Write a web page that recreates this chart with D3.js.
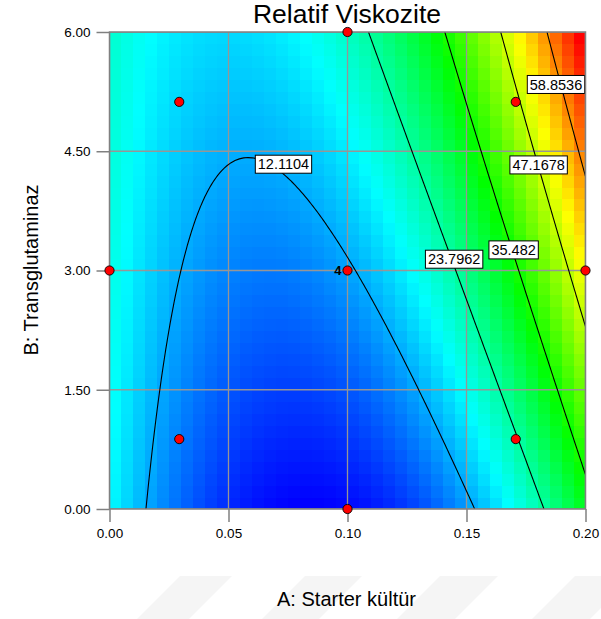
<!DOCTYPE html>
<html>
<head>
<meta charset="utf-8">
<script src="https://cdn.jsdelivr.net/npm/d3@7"></script>
<style>
  html, body { margin: 0; padding: 0; background: #fff; }
  svg { display: block; font-family: "Liberation Sans", Arial, sans-serif; }
</style>
</head>
<body>
<svg id="chart" width="601" height="619"></svg>
<script>
// ---------------- data ----------------
const chartTitle = "Relatif Viskozite";
const xTitle = "A: Starter kültür";
const yTitle = "B: Transglutaminaz";

const xTicks = [0, 0.05, 0.10, 0.15, 0.20];
const yTicks = [0, 1.5, 3, 4.5, 6];

// fitted quadratic model in coded units (x1 = (A-0.1)/0.1, x2 = (B-3)/3)
const modelTerms = ["1", "A", "B", "AB", "A^2", "B^2"];
const modelCoef  = [11.55, 16.0, 10.1, 8.5, 24.0, -0.2];

// contour levels
const contourLevels = [12.1104, 23.7962, 35.482, 47.1678, 58.8536];
// contour label anchors (A, B)
const labelA = [0.0731, 0.1448, 0.1698, 0.1803, 0.1876];
const labelB = [4.337, 3.142, 3.259, 4.328, 5.34];

// design points
const designA = [0.0293, 0.1707, 0.0293, 0.1707, 0, 0.2, 0.1, 0.1, 0.1];
const designB = [0.879, 0.879, 5.121, 5.121, 3, 3, 0, 6, 3];
const designLabel = ["", "", "", "", "", "", "", "", "4"];

const nCells = 40;
const colorStops = ["#0000ff", "#00ffff", "#00ff00", "#ffff00", "#ff0000"];

// ---------------- setup ----------------
const svg = d3.select("#chart");
const x = d3.scaleLinear().domain([0, 0.2]).range([109.5, 585.5]);
const y = d3.scaleLinear().domain([0, 6]).range([509, 32]);
const [x0, x1p] = x.range();
const [y0, y1p] = y.range();

function model(a, b) {
  const c1 = (a - 0.1) / 0.1, c2 = (b - 3) / 3;
  const k = modelCoef;
  return k[0] + k[1]*c1 + k[2]*c2 + k[3]*c1*c2 + k[4]*c1*c1 + k[5]*c2*c2;
}

// watermark stripes
const stripeLeft = [180, 305, 440, 575];
const stripeW = [52, 57, 58, 58];
svg.append("g").selectAll("path").data(stripeLeft).join("path")
  .attr("d", (d, i) => {
    const t = 576, bt = 640, s = bt - t;
    return `M${d},${t}L${d+stripeW[i]},${t}L${d+stripeW[i]-s},${bt}L${d-s},${bt}Z`;
  })
  .attr("fill", "#f5f5f5");

svg.append("defs").append("clipPath").attr("id", "plotclip")
  .append("rect").attr("x", x0).attr("y", y1p).attr("width", x1p - x0).attr("height", y0 - y1p);

const plot = svg.append("g").attr("clip-path", "url(#plotclip)");

// ---------------- heat cells ----------------
const cells = [];
const da = 0.2 / nCells, db = 6 / nCells;
for (let j = 0; j < nCells; j++) {
  for (let i = 0; i < nCells; i++) {
    const a = (i + 0.5) * da, b = (j + 0.5) * db;
    cells.push({ i, j, v: model(a, b) });
  }
}
const vmin = d3.min(cells, d => d.v), vmax = d3.max(cells, d => d.v);
const color = d3.scaleLinear()
  .domain(d3.range(5).map(k => vmin + (vmax - vmin) * k / 4))
  .range(colorStops)
  .interpolate(d3.interpolateRgb);

plot.append("g").selectAll("rect").data(cells).join("rect")
  .attr("x", d => x(d.i * da))
  .attr("y", d => y((d.j + 1) * db))
  .attr("width", d => x((d.i + 1) * da) - x(d.i * da) + 0.5)
  .attr("height", d => y(d.j * db) - y((d.j + 1) * db) + 0.5)
  .attr("fill", d => color(d.v))
  .attr("shape-rendering", "crispEdges");

// ---------------- grid ----------------
plot.append("g").selectAll("line").data(xTicks).join("line")
  .attr("x1", d => x(d)).attr("x2", d => x(d))
  .attr("y1", y0).attr("y2", y1p)
  .attr("stroke", "#969696").attr("stroke-width", 1.3);
plot.append("g").selectAll("line").data(yTicks).join("line")
  .attr("y1", d => y(d)).attr("y2", d => y(d))
  .attr("x1", x0).attr("x2", x1p)
  .attr("stroke", "#969696").attr("stroke-width", 1.3);

// ---------------- contours ----------------
const n = 221, lo = -0.1, hi = 0.3;   // A grid beyond domain
const bLo = -0.3, bHi = 6.3;
const stepA = (hi - lo) / (n - 1), stepB = (bHi - bLo) / (n - 1);
const values = new Array(n * n);
for (let j = 0; j < n; j++) for (let i = 0; i < n; i++) {
  values[j * n + i] = model(lo + i * stepA, bLo + j * stepB);
}
const contours = d3.contours().size([n, n]).thresholds(contourLevels).smooth(true)(values);
const proj = d3.geoTransform({
  point: function(gx, gy) {
    this.stream.point(x(lo + (gx - 0.5) * stepA), y(bLo + (gy - 0.5) * stepB));
  }
});
plot.append("g").selectAll("path").data(contours).join("path")
  .attr("d", d3.geoPath(proj))
  .attr("fill", "none")
  .attr("stroke", "#000")
  .attr("stroke-width", 1.1);

// contour labels
const lab = plot.append("g").selectAll("g").data(contourLevels).join("g")
  .attr("transform", (d, i) => `translate(${x(labelA[i])},${y(labelB[i])})`);
lab.append("text")
  .attr("text-anchor", "middle").attr("dy", "0.36em")
  .attr("font-size", 14.5).attr("fill", "#000")
  .text(d => String(d));
lab.each(function() {
  const g = d3.select(this);
  const bb = g.select("text").node().getBBox();
  g.insert("rect", "text")
    .attr("x", -bb.width / 2 - 2.5).attr("y", -9)
    .attr("width", bb.width + 5).attr("height", 18)
    .attr("fill", "#fff").attr("stroke", "#000").attr("stroke-width", 1);
});

// ---------------- border & axes ----------------
svg.append("rect").attr("x", x0).attr("y", y1p)
  .attr("width", x1p - x0).attr("height", y0 - y1p)
  .attr("fill", "none").attr("stroke", "#808080").attr("stroke-width", 1.5);

const xAxis = svg.append("g").attr("transform", `translate(0,${y0})`)
  .call(d3.axisBottom(x).tickValues(xTicks).tickFormat(d3.format(".2f")).tickSize(13).tickSizeOuter(0));
const yAxis = svg.append("g").attr("transform", `translate(${x0},0)`)
  .call(d3.axisLeft(y).tickValues(yTicks).tickFormat(d3.format(".2f")).tickSize(13).tickSizeOuter(0));
[xAxis, yAxis].forEach(g => {
  g.select(".domain").remove();
  g.selectAll(".tick line").attr("stroke", "#808080").attr("stroke-width", 1.5);
  g.selectAll(".tick text").attr("font-size", 13.5).attr("fill", "#000")
    .attr("font-family", "Liberation Sans, Arial, sans-serif");
});
xAxis.selectAll(".tick text").attr("y", 19).attr("dy", "0.71em");
yAxis.selectAll(".tick text").attr("x", -19);

// ---------------- design points ----------------
const pts = svg.append("g");
pts.selectAll("circle").data(designA).join("circle")
  .attr("cx", d => x(d)).attr("cy", (d, i) => y(designB[i]))
  .attr("r", 4.6).attr("fill", "#ff0000").attr("stroke", "#000").attr("stroke-width", 0.9);
pts.selectAll("text").data(designLabel.filter(s => s)).join("text")
  .attr("x", () => x(designA[8]) - 6).attr("y", () => y(designB[8]) + 4.5)
  .attr("text-anchor", "end").attr("font-size", 13).attr("font-weight", "bold")
  .text(d => d);

// ---------------- titles ----------------
svg.append("text").attr("x", 347).attr("y", 23).attr("text-anchor", "middle")
  .attr("font-size", 26.5).attr("fill", "#000").text(chartTitle);
svg.append("text").attr("x", 346.5).attr("y", 606).attr("text-anchor", "middle")
  .attr("font-size", 20).attr("fill", "#000").text(xTitle);
svg.append("text").attr("transform", "translate(38,270) rotate(-90)").attr("text-anchor", "middle")
  .attr("font-size", 20).attr("fill", "#000").text(yTitle);
</script>
</body>
</html>
